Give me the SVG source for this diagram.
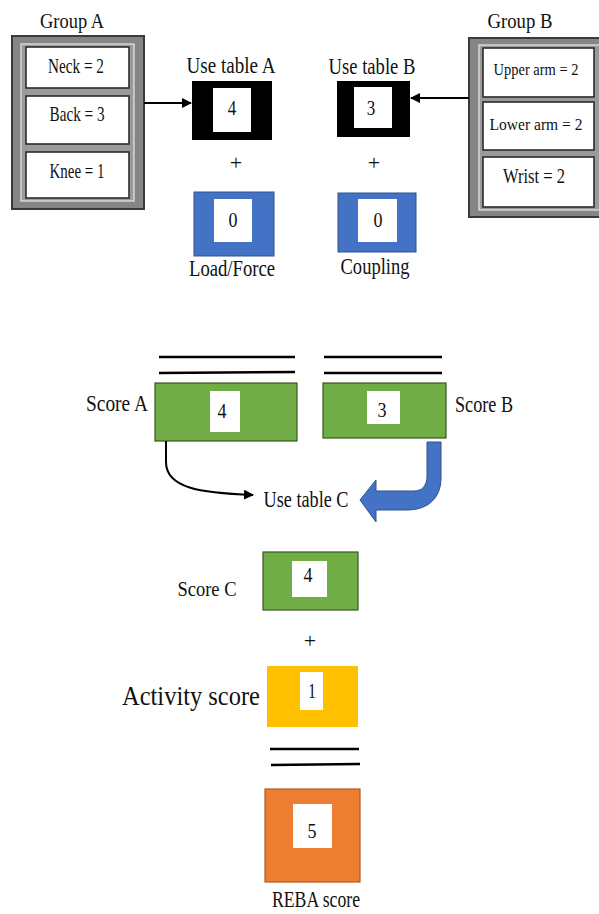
<svg xmlns="http://www.w3.org/2000/svg" width="599" height="914" viewBox="0 0 599 914">
<defs>
<style>
text{font-family:"Liberation Serif","Times New Roman",serif;fill:#111;text-anchor:middle}
.lbl{font-size:23px}
.sm{font-size:21px}
.smb{font-size:17.5px}
.num{font-size:20px}
.plus{font-size:22px}
.grp{fill:#858585;stroke:#3a3a3a;stroke-width:2}
.grpin{fill:#9a9a9a;stroke:#e8e8e8;stroke-width:1.2}
.item{fill:#fff;stroke:#2b2b2b;stroke-width:1.6}
.wh{fill:#fff}
.blk{fill:#000}
.blue{fill:#4472C4;stroke:#2F528F;stroke-width:1}
.green{fill:#70AD47;stroke:#38571f;stroke-width:1.2}
.yellow{fill:#FFC000}
.orange{fill:#ED7D31;stroke:#ae5a21;stroke-width:1.2}
.conn{fill:none;stroke:#000;stroke-width:2}
.bar{stroke:#000;stroke-width:2.5}
</style>
<marker id="ah" viewBox="0 0 10 10" refX="9" refY="5" markerWidth="5" markerHeight="5" orient="auto"><path d="M0,0 L10,5 L0,10 z" fill="#000"/></marker>
</defs>

<g id="groupA">
<text class="sm" x="72" y="28" textLength="64" lengthAdjust="spacingAndGlyphs">Group A</text>
<rect class="grp" x="12" y="36" width="132" height="173"/>
<rect class="grpin" x="21" y="44" width="113" height="157"/>
<rect class="item" x="26" y="47" width="103" height="41"/>
<rect class="item" x="26" y="96" width="103" height="48"/>
<rect class="item" x="26" y="152" width="103" height="46"/>
<text class="sm" x="76" y="73" textLength="56" lengthAdjust="spacingAndGlyphs">Neck = 2</text>
<text class="sm" x="77" y="121" textLength="55" lengthAdjust="spacingAndGlyphs">Back = 3</text>
<text class="sm" x="77" y="178" textLength="55" lengthAdjust="spacingAndGlyphs">Knee = 1</text>
</g>

<g id="groupB">
<text class="sm" x="520" y="28" textLength="65" lengthAdjust="spacingAndGlyphs">Group B</text>
<rect class="grp" x="469" y="38" width="132" height="179"/>
<rect class="grpin" x="479" y="45" width="125" height="165"/>
<rect class="item" x="483" y="48" width="111" height="49"/>
<rect class="item" x="483" y="102" width="111" height="48"/>
<rect class="item" x="483" y="157" width="111" height="50"/>
<text class="smb" x="536" y="75" textLength="85" lengthAdjust="spacingAndGlyphs">Upper arm = 2</text>
<text class="smb" x="536" y="130" textLength="93" lengthAdjust="spacingAndGlyphs">Lower arm = 2</text>
<text class="sm" x="534" y="183" textLength="62" lengthAdjust="spacingAndGlyphs">Wrist = 2</text>
</g>

<g id="tableA">
<text class="lbl" x="231" y="73" textLength="89" lengthAdjust="spacingAndGlyphs">Use table A</text>
<rect class="blk" x="192" y="81" width="80" height="59"/>
<rect class="wh" x="213" y="88" width="38" height="44"/>
<text class="num" x="232" y="115" textLength="8.5" lengthAdjust="spacingAndGlyphs">4</text>
</g>

<g id="tableB">
<text class="lbl" x="372" y="74" textLength="87" lengthAdjust="spacingAndGlyphs">Use table B</text>
<rect class="blk" x="337" y="81" width="73" height="56"/>
<rect class="wh" x="354" y="87" width="38" height="41"/>
<text class="num" x="371" y="115" textLength="8.5" lengthAdjust="spacingAndGlyphs">3</text>
</g>

<g id="plusA"><text class="plus" x="236" y="170">+</text></g>
<g id="plusB"><text class="plus" x="374" y="170">+</text></g>

<g id="loadForce">
<rect class="blue" x="194" y="192" width="80" height="64"/>
<rect class="wh" x="214" y="199" width="38" height="43"/>
<text class="num" x="233" y="227" textLength="9" lengthAdjust="spacingAndGlyphs">0</text>
<text class="lbl" x="232" y="276" textLength="86" lengthAdjust="spacingAndGlyphs">Load/Force</text>
</g>

<g id="coupling">
<rect class="blue" x="338" y="193" width="78" height="59"/>
<rect class="wh" x="358" y="199" width="39" height="43"/>
<text class="num" x="378" y="227" textLength="9" lengthAdjust="spacingAndGlyphs">0</text>
<text class="lbl" x="375" y="274" textLength="69" lengthAdjust="spacingAndGlyphs">Coupling</text>
</g>

<g id="scoreA">
<line class="bar" x1="159" y1="357" x2="295" y2="357"/>
<line class="bar" x1="159" y1="373" x2="295" y2="372"/>
<rect class="green" x="155" y="383" width="142" height="58"/>
<rect class="wh" x="210" y="391" width="30" height="41"/>
<text class="num" x="222" y="418" textLength="9" lengthAdjust="spacingAndGlyphs">4</text>
<text class="lbl" x="117" y="411" textLength="62" lengthAdjust="spacingAndGlyphs">Score A</text>
</g>

<g id="scoreB">
<line class="bar" x1="324" y1="357" x2="442" y2="357"/>
<line class="bar" x1="324" y1="373" x2="442" y2="373"/>
<rect class="green" x="323" y="383" width="123" height="55"/>
<rect class="wh" x="367" y="391" width="33" height="33"/>
<text class="num" x="382" y="417" textLength="9" lengthAdjust="spacingAndGlyphs">3</text>
<text class="lbl" x="484" y="412" textLength="58" lengthAdjust="spacingAndGlyphs">Score B</text>
</g>

<g id="tableC">
<text class="lbl" x="306" y="507" textLength="85" lengthAdjust="spacingAndGlyphs">Use table C</text>
</g>

<g id="scoreC">
<rect class="green" x="263" y="552" width="95" height="58"/>
<rect class="wh" x="292" y="561" width="35" height="36"/>
<text class="num" x="308" y="582" textLength="9" lengthAdjust="spacingAndGlyphs">4</text>
<text class="sm" x="207" y="596" textLength="59" lengthAdjust="spacingAndGlyphs">Score C</text>
</g>

<g id="plusC"><text class="plus" x="310" y="648">+</text></g>

<g id="activity">
<rect class="yellow" x="267" y="666" width="91" height="61"/>
<rect class="wh" x="300" y="672" width="23" height="38"/>
<text class="num" x="312" y="698" textLength="8" lengthAdjust="spacingAndGlyphs">1</text>
<text x="191" y="705" style="font-size:27px" textLength="138" lengthAdjust="spacingAndGlyphs">Activity score</text>
</g>

<g id="reba">
<line class="bar" x1="270" y1="749" x2="359" y2="749"/>
<line class="bar" x1="271" y1="765" x2="360" y2="764"/>
<rect class="orange" x="265" y="789" width="95" height="93"/>
<rect class="wh" x="293" y="804" width="39" height="44"/>
<text class="num" x="312" y="838" textLength="9" lengthAdjust="spacingAndGlyphs">5</text>
<text class="lbl" x="316" y="907" style="font-size:24px" textLength="88" lengthAdjust="spacingAndGlyphs">REBA score</text>
</g>

<g id="connectors">
<line class="conn" x1="144" y1="103" x2="191" y2="103" marker-end="url(#ah)"/>
<line class="conn" x1="469" y1="98" x2="411" y2="98" marker-end="url(#ah)"/>
<path class="conn" d="M166,441 L166,462 C166,488 200,493 253,495" marker-end="url(#ah)"/>
<path class="blue" d="M427,442 L441,442 L441,478 C441,498 428,510 407,510 L376,510 L376,522 L360,500 L376,480 L376,491 L414,491 C422,491 427,486 427,476 Z"/>
</g>
</svg>
